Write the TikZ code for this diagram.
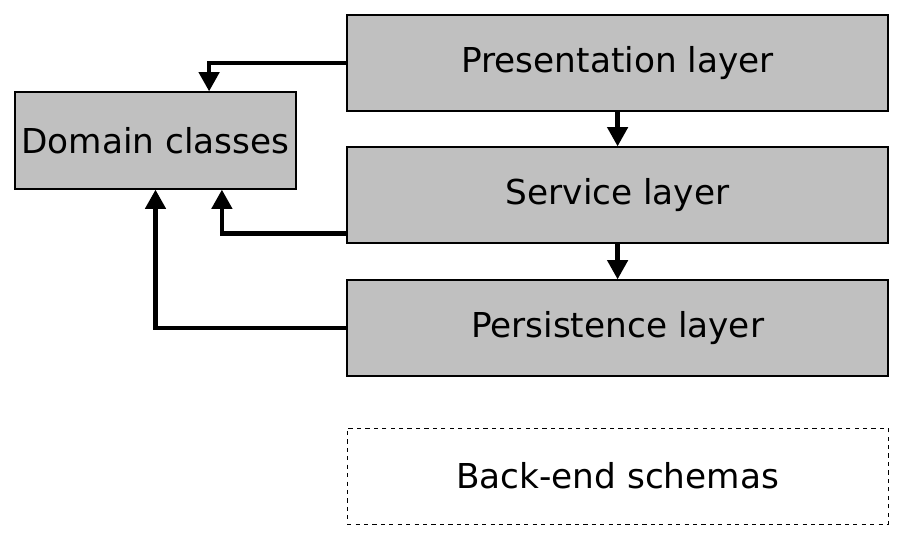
\documentclass[tikz,border=0pt]{standalone}
\usepackage{fontspec}
\setmainfont{DejaVu Sans}
\usepackage{tikz}
\usetikzlibrary{arrows.meta}
\definecolor{boxgray}{RGB}{192,192,192}

\begin{document}
\begin{tikzpicture}[font=\fontsize{24.4}{29}\selectfont,
  main/.style = {draw, fill=boxgray, line width=0.9pt, minimum width=13.525cm, minimum height=2.4cm, inner sep=0},
  ghost/.style = {draw, dashed, line width=0.5pt, minimum width=13.525cm, minimum height=2.4cm, inner sep=0},
  link/.style = {line width=3.1pt, -{Triangle[width=0.5cm,length=0.48cm]}}]
	\useasboundingbox (0,0) rectangle (22.575,13.475);
	\node[main] (P) at (15.44, 11.9){Presentation layer};
	\node[main] (S) at (15.44, 8.6){Service layer};
	\node[main] (R) at (15.44, 5.275){Persistence layer};
	\node[ghost] (B) at (15.44, 1.575){Back-end schemas};
	\node[main, minimum width=7.025cm, minimum height=2.425cm] (D) at (3.8875, 9.9625){Domain classes};
	\draw[link] (P) -- (S);
	\draw[link] (S) -- (R);
	\draw[link] (P.west) -| ([xshift=1.34cm]D.north);
	\draw[link] ([yshift=0.25cm]S.south west) -| ([xshift=1.66cm]D.south);
	\draw[link] (R.west) -| (D.south);
\end{tikzpicture}
\end{document}
